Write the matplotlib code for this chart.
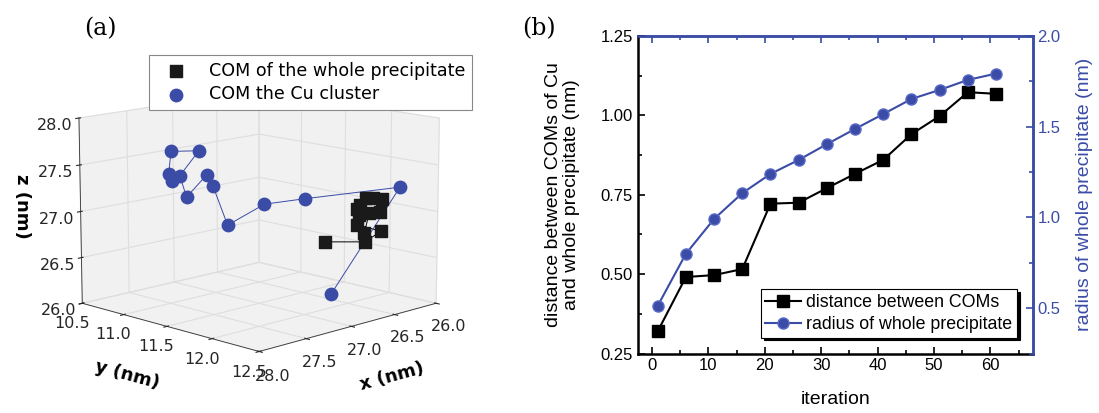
import numpy as np
import matplotlib
matplotlib.use('Agg')
import matplotlib.pyplot as plt
from matplotlib.ticker import MultipleLocator

# ---- data, panel (a): centre of mass trajectories (nm)
whole_x = [26.94, 26.72, 26.63, 26.76, 26.75, 26.76, 26.75, 26.72, 26.68, 26.63, 26.64, 26.70, 26.72]
whole_y = [12.16, 12.38, 12.46, 12.33, 12.34, 12.33, 12.35, 12.38, 12.42, 12.47, 12.46, 12.40, 12.37]
whole_z = [26.80, 26.80, 26.91, 26.98, 27.08, 27.15, 27.19, 27.26, 27.26, 27.25, 27.12, 27.10, 26.89]

cu_x = [26.80, 26.32, 26.75, 26.87, 26.98, 26.96, 26.95, 27.02, 27.01, 26.85, 27.06, 27.17, 27.20]
cu_y = [12.10, 12.38, 11.76, 11.43, 11.12, 10.93, 10.85, 10.68, 10.59, 10.65, 10.54, 10.63, 10.70]
cu_z = [26.20, 27.30, 27.14, 27.04, 26.77, 27.16, 27.27, 27.00, 27.22, 27.48, 27.49, 27.28, 27.22]

# ---- data, panel (b)
iteration = [1, 6, 11, 16, 21, 26, 31, 36, 41, 46, 51, 56, 61]
com_dist = [0.32, 0.491, 0.497, 0.516, 0.722, 0.725, 0.771, 0.816, 0.860, 0.941, 0.998, 1.073, 1.068]
radius = [0.513, 0.80, 0.992, 1.134, 1.240, 1.317, 1.404, 1.488, 1.570, 1.653, 1.703, 1.758, 1.793]

blue = '#3a4ca6'

fig = plt.figure(figsize=(10.99, 4.13), dpi=100)

# ================= (a) =================
ax = fig.add_axes([0.016, 0.0, 0.43, 0.95], projection='3d')
ax.view_init(elev=12, azim=45)
ax.plot(whole_x, whole_y, whole_z, color='k', lw=0.7)
ax.plot(cu_x, cu_y, cu_z, color=blue, lw=0.7)
ax.scatter(whole_x, whole_y, whole_z, marker='s', s=80, color='#1a1a1a', depthshade=False,
           label='COM of the whole precipitate')
ax.scatter(cu_x, cu_y, cu_z, marker='o', s=80, color=blue, depthshade=False,
           label='COM the Cu cluster')
ax.set_xlim(26, 28)
ax.set_ylim(10.5, 12.5)
ax.set_zlim(26, 28)
ax.set_xticks([26.0, 26.5, 27.0, 27.5, 28.0])
ax.set_yticks([10.5, 11.0, 11.5, 12.0, 12.5])
ax.set_zticks([26.0, 26.5, 27.0, 27.5, 28.0])
for a in (ax.xaxis, ax.yaxis, ax.zaxis):
    a.set_pane_color((0.945, 0.945, 0.945, 1.0))
    a._axinfo['grid']['color'] = (0.87, 0.87, 0.87, 1)
    a._axinfo['grid']['linewidth'] = 0.8
    a.line.set_color((0.2, 0.2, 0.2))
    a.line.set_linewidth(0.6)
ax.tick_params(labelsize=11.5, colors='#262626', pad=2)
ax.tick_params(axis='y', pad=0)
ax.set_xlabel('x (nm)', fontsize=13, fontweight='bold', labelpad=10)
ax.set_ylabel('y (nm)', fontsize=13, fontweight='bold', labelpad=9)
fig.text(0.02, 0.50, 'z (nm)', fontsize=13, fontweight='bold', rotation=270,
         ha='center', va='center')
leg = ax.legend(loc='upper left', bbox_to_anchor=(0.136, 0.867), fontsize=12.6, frameon=True,
                fancybox=False, framealpha=1, edgecolor='#888888', borderpad=0.4,
                handlelength=2.2, handletextpad=0.8, labelspacing=0.3, scatterpoints=1,
                bbox_transform=fig.transFigure, borderaxespad=0)
leg.get_frame().set_linewidth(0.8)
fig.text(0.077, 0.93, '(a)', family='DejaVu Serif', fontsize=17, ha='left', va='center')

# ================= (b) =================
fam = ['Liberation Sans', 'DejaVu Sans']
axb = fig.add_axes([0.5805, 0.144, 0.3592, 0.7688])
l1, = axb.plot(iteration, com_dist, '-s', color='k', ms=8, lw=1.5,
               label='distance between COMs')
axb.set_xlim(-2.5, 67.5)
axb.set_ylim(0.25, 1.25)
axb.xaxis.set_major_locator(MultipleLocator(10))
axb.xaxis.set_minor_locator(MultipleLocator(5))
axb.yaxis.set_major_locator(MultipleLocator(0.25))
axb.yaxis.set_minor_locator(MultipleLocator(0.125))
axb.tick_params(which='both', direction='in', labelsize=12)
axb.tick_params(which='major', length=5, width=1.2)
axb.tick_params(which='minor', length=3, width=1.2)
for t in axb.get_xticklabels() + axb.get_yticklabels():
    t.set_family(fam)
axb.spines['top'].set_color(blue)
axb.spines['right'].set_color(blue)
for s in axb.spines.values():
    s.set_linewidth(1.8)
axb.set_xlabel('iteration', fontsize=14, family=fam, labelpad=13)
axb.set_ylabel('distance between COMs of Cu\nand whole precipitate (nm)', fontsize=14,
               family=fam, labelpad=15, linespacing=1.05)

top = axb.secondary_xaxis('top')
top.xaxis.set_major_locator(MultipleLocator(10))
top.xaxis.set_minor_locator(MultipleLocator(5))
top.tick_params(which='both', direction='in', colors=blue, labeltop=False)
top.tick_params(which='major', length=5, width=1.2)
top.tick_params(which='minor', length=3, width=1.2)
top.spines['top'].set_color(blue)
top.spines['top'].set_linewidth(1.8)

axr = axb.twinx()
l2, = axr.plot(iteration, radius, '-o', color=blue, ms=8, lw=1.5, mfc=blue,
               mec='#5a6cc8', label='radius of whole precipitate')
axr.set_ylim(0.25, 2.0)
axr.yaxis.set_major_locator(MultipleLocator(0.5))
axr.yaxis.set_minor_locator(MultipleLocator(0.25))
axr.tick_params(which='both', direction='in', colors=blue, labelsize=12)
axr.tick_params(which='major', length=5, width=1.2)
axr.tick_params(which='minor', length=3, width=1.2)
for t in axr.get_yticklabels():
    t.set_family(fam)
for s in axr.spines.values():
    s.set_visible(False)
axr.spines['right'].set_visible(True)
axr.spines['right'].set_color(blue)
axr.spines['right'].set_linewidth(1.8)
axr.set_ylabel('radius of whole precipitate (nm)', fontsize=14, color=blue, family=fam, labelpad=11)

lg = axr.legend([l1, l2], [l1.get_label(), l2.get_label()], loc='lower right',
                bbox_to_anchor=(0.96, 0.05), frameon=True, fancybox=False,
                shadow={'color': 'k', 'alpha': 1}, framealpha=1, edgecolor='k',
                borderpad=0.25, handlelength=2.0, handletextpad=0.3, labelspacing=0.3,
                borderaxespad=0, prop={'family': fam, 'size': 12.8})
lg.get_frame().set_linewidth(0.8)
fig.text(0.475, 0.93, '(b)', family='DejaVu Serif', fontsize=17, ha='left', va='center')

fig.savefig('out.png', dpi=100)
